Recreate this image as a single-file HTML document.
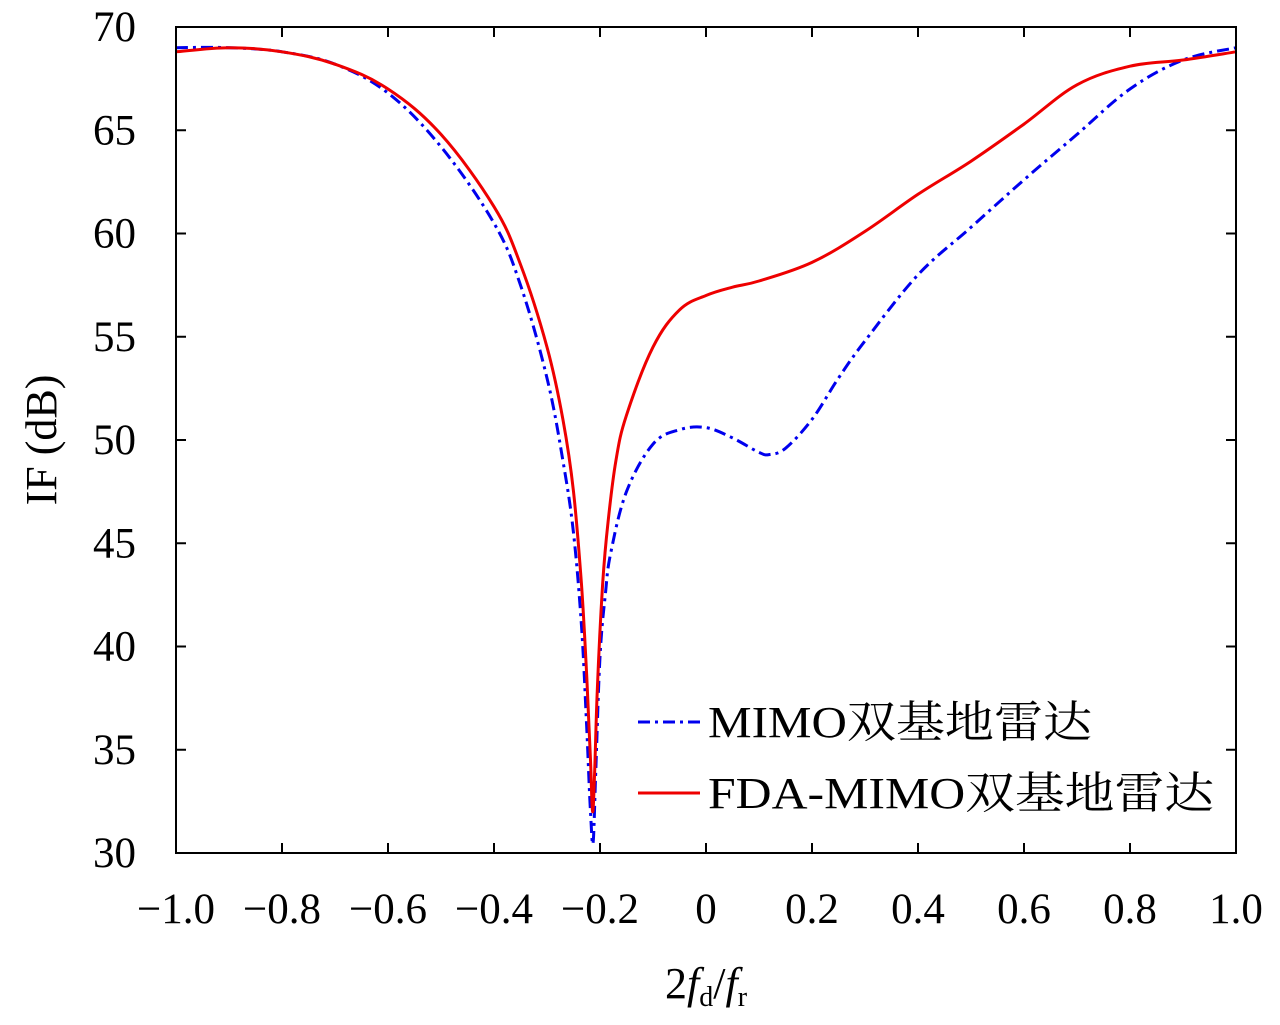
<!DOCTYPE html>
<html><head><meta charset="utf-8"><style>
body{margin:0;background:#fff}
svg text{font-family:"Liberation Serif","Noto Serif CJK SC",serif;fill:#000}
</style></head><body>
<svg id="chart" width="1280" height="1020" xmlns="http://www.w3.org/2000/svg">
<g id="grid"></g>
<g id="series"></g>
<rect x="176" y="27" width="1060" height="826" fill="none" stroke="#000" stroke-width="2"/>
<text transform="translate(56,440) rotate(-90)" text-anchor="middle" font-size="44">IF (dB)</text>
<text x="706" y="998" text-anchor="middle" font-size="44">2<tspan font-style="italic">f</tspan><tspan font-size="28" dy="8">d</tspan><tspan dy="-8">/</tspan><tspan font-style="italic">f</tspan><tspan font-size="28" dy="8">r</tspan></text>
<g>
<line x1="638" y1="722" x2="700" y2="722" stroke="#0000ee" stroke-width="3" stroke-dasharray="12,5,3,5"/>
<text x="708" y="737" font-size="44" textLength="384" lengthAdjust="spacingAndGlyphs">MIMO双基地雷达</text>
<line x1="638" y1="793" x2="700" y2="793" stroke="#ee0000" stroke-width="3"/>
<text x="708" y="808" font-size="44" textLength="506" lengthAdjust="spacingAndGlyphs">FDA-MIMO双基地雷达</text>
</g>
</svg>
<script>
const xTicks=[-1,-0.8,-0.6,-0.4,-0.2,0,0.2,0.4,0.6,0.8,1];
const xTickLabels=["\u22121.0","\u22120.8","\u22120.6","\u22120.4","\u22120.2","0","0.2","0.4","0.6","0.8","1.0"];
const yTicks=[30,35,40,45,50,55,60,65,70];
const mimoX=[-1,-0.9,-0.8,-0.7,-0.6,-0.5,-0.4,-0.35,-0.3,-0.27,-0.25,-0.235,-0.225,-0.218,-0.213,-0.208,-0.2,-0.19,-0.18,-0.15,-0.1,-0.05,0,0.05,0.1,0.12,0.15,0.2,0.25,0.3,0.4,0.5,0.6,0.7,0.8,0.9,1];
const mimoY=[69,69,68.8,68.2,66.8,64.2,60.5,57.5,53,49,45.5,41,36,32,30.5,34,39.5,42.5,44.5,47.5,49.8,50.5,50.6,50.1,49.4,49.3,49.6,51,53,54.8,58,60.3,62.6,64.8,67,68.4,69];
const fdaX=[-1,-0.9,-0.8,-0.7,-0.6,-0.5,-0.4,-0.35,-0.3,-0.27,-0.25,-0.235,-0.225,-0.218,-0.214,-0.21,-0.205,-0.195,-0.185,-0.17,-0.15,-0.1,-0.05,0,0.05,0.1,0.2,0.3,0.4,0.5,0.6,0.7,0.8,0.9,1];
const fdaY=[68.8,69,68.8,68.2,67,64.8,61.3,58.5,54.5,51,47.5,43,38.5,34.5,32,34,38,43,46,49,51.2,54.5,56.3,57,57.4,57.7,58.6,60.1,61.9,63.5,65.3,67.2,68.1,68.4,68.8];
const sx=v=>176+(v+1)*530;
const sy=v=>853-(v-30)*20.65;
const NS="http://www.w3.org/2000/svg";
const g=document.getElementById('grid');
function mk(t,a,p){const e=document.createElementNS(NS,t);for(const k in a)e.setAttribute(k,a[k]);p.appendChild(e);return e;}
xTicks.forEach((v,i)=>{
 const x=sx(v);
 const t1=mk('line',{x1:x,y1:853,x2:x,y2:843,stroke:'#000','stroke-width':2},g);
 
 
 const t2=mk('line',{x1:x,y1:27,x2:x,y2:37,stroke:'#000','stroke-width':2},g);
 
 
 const tx=mk('text',{x:x,y:923,'text-anchor':'middle','font-size':43},g);
 tx.textContent=xTickLabels[i];
 
 
});
yTicks.forEach(v=>{
 const y=sy(v);
 const t1=mk('line',{x1:176,y1:y,x2:186,y2:y,stroke:'#000','stroke-width':2},g);
 
 
 const t2=mk('line',{x1:1236,y1:y,x2:1226,y2:y,stroke:'#000','stroke-width':2},g);
 
 
 const tx=mk('text',{x:136,y:y+14,'text-anchor':'end','font-size':43},g);
 tx.textContent=String(v);
 
 
});
const s=document.getElementById('series');
function smooth(X,Y){
 const P=X.map((v,i)=>[sx(v),sy(Y[i])]);
 let d='M'+P[0][0].toFixed(1)+','+P[0][1].toFixed(1);
 for(let i=0;i<P.length-1;i++){
  const p0=P[Math.max(0,i-1)],p1=P[i],p2=P[i+1],p3=P[Math.min(P.length-1,i+2)];
  const t=0.35;
  const c1=[p1[0]+(p2[0]-p0[0])*t/2,p1[1]+(p2[1]-p0[1])*t/2];
  const c2=[p2[0]-(p3[0]-p1[0])*t/2,p2[1]-(p3[1]-p1[1])*t/2];
  d+=' C'+c1[0].toFixed(1)+','+c1[1].toFixed(1)+' '+c2[0].toFixed(1)+','+c2[1].toFixed(1)+' '+p2[0].toFixed(1)+','+p2[1].toFixed(1);
 }
 return d;
}
const p1=mk('path',{d:smooth(mimoX,mimoY),fill:'none',stroke:'#0000ee','stroke-width':3,'stroke-dasharray':'12,5,3,5','stroke-linejoin':'round'},s);


const p2=mk('path',{d:smooth(fdaX,fdaY),fill:'none',stroke:'#ee0000','stroke-width':3,'stroke-linejoin':'round'},s);


</script>
</body></html>
